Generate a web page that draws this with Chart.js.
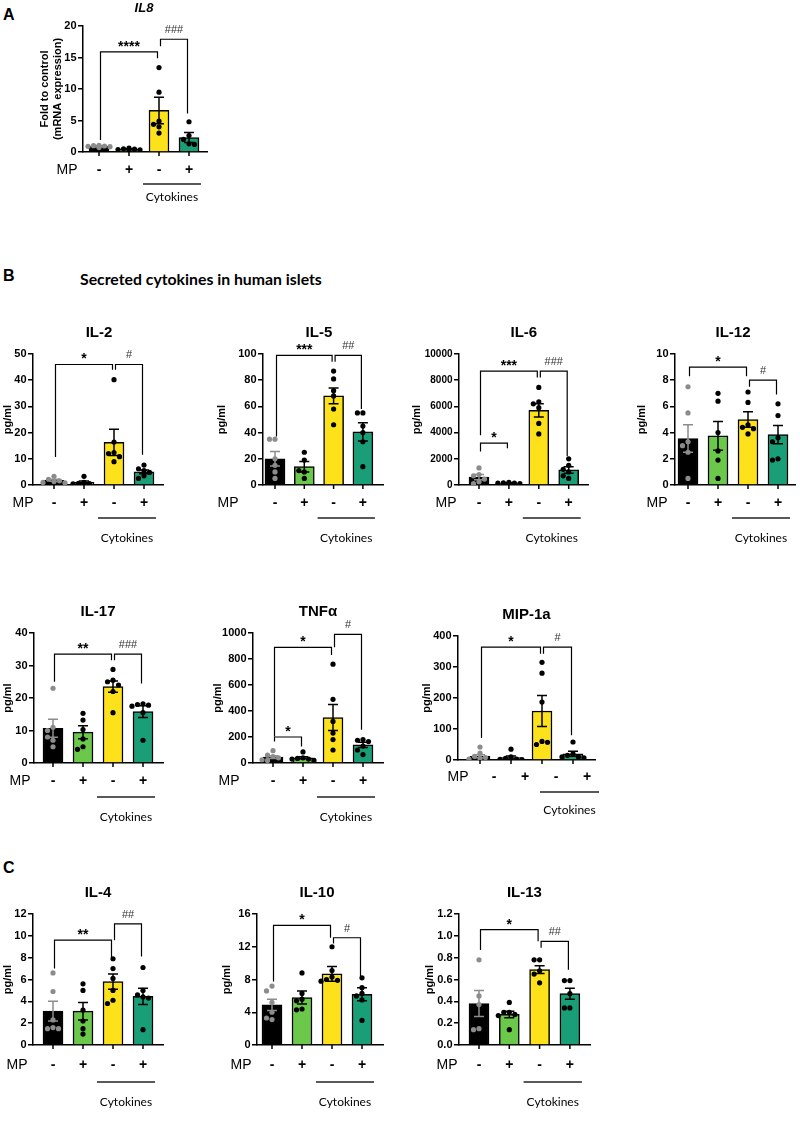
<!DOCTYPE html>
<html>
<head>
<meta charset="utf-8">
<script src="https://cdn.jsdelivr.net/npm/chart.js@4.4.1/dist/chart.umd.min.js"></script>
<style>
  body { margin: 0; background: #fff; }
  #fig { position: relative; width: 800px; height: 1126px; overflow: hidden; background: #fff; }
  #fig canvas { position: absolute; }
  .letter { position: absolute; font: bold 16px "Liberation Sans", Arial, sans-serif; line-height: 16px; }
  .head { position: absolute; font: bold 15.8px Lato, sans-serif; line-height: 16px; white-space: nowrap; }
</style>
</head>
<body>
<div id="fig">
  <div class="letter" style="left:3px;top:7px">A</div>
  <div class="letter" style="left:3px;top:268px">B</div>
  <div class="head" style="left:80px;top:271px">Secreted cytokines in human islets</div>
  <div class="letter" style="left:3px;top:860px">C</div>
</div>
<script>
// groups: control, MP, cytokines, cytokines + MP
var groups = ['Control', 'MP', 'Cytokines', 'Cytokines + MP'];
var mpSigns = ['-', '+', '-', '+'];

// A - IL8 mRNA, fold to control
var il8Mean = [0.9, 0.45, 6.6, 2.3];
var il8Sem = [0.08, 0.05, 2.1, 0.8];
var il8Pts = [[1.05, 1.0, 0.95, 0.9, 0.85, 0.7], [0.6, 0.5, 0.45, 0.4, 0.35, 0.3], [13.4, 9.5, 4.9, 4.4, 4.0, 3.0], [4.8, 2.6, 2.0, 1.3, 1.2]];
var il8Sig = [{a: 0, b: 2, y: 15.9, ya: 1.9, yb: 14.9, t: '****'}, {a: 2, b: 3, y: 17.9, ya: 16.8, yb: 6.1, t: '###'}];

// B - secreted cytokines (pg/ml)
var il2Mean = [1.8, 1.0, 16.3, 5.0];
var il2Sem = [0.4, 0.5, 5.0, 0.7];
var il2Pts = [[3.3, 2.2, 1.6, 1.3, 1.0, 0.8], [3.3, 1.0, 0.6, 0.5, 0.4], [40.2, 16.4, 12.4, 12.0, 10.8, 8.9], [7.6, 6.2, 5.5, 4.8, 3.5, 2.5]];
var il2Sig = [{a: 0, b: 2, y: 46, ya: 10.7, yb: 44, t: '*'}, {a: 2, b: 3, y: 46, ya: 44, yb: 11.5, t: '#'}];

var il5Mean = [20, 14, 68, 40.5];
var il5Sem = [5.5, 4, 6, 7];
var il5Pts = [[35, 35, 20, 15, 5, 10], [25, 19, 10, 5, 11], [87, 81, 72, 68, 58, 46], [55, 55, 45, 40, 33, 14]];
var il5Sig = [{a: 0, b: 2, y: 99, ya: 37, yb: 94, t: '***'}, {a: 2, b: 3, y: 99, ya: 94, yb: 58, t: '##'}];

var il6Mean = [600, 150, 5700, 1150];
var il6Sem = [200, 20, 500, 250];
var il6Pts = [[1300, 800, 700, 450, 250, 100], [200, 160, 150, 140, 110, 100], [7450, 6350, 6200, 5900, 4700, 3900], [2000, 1500, 1200, 1000, 700, 500]];
var il6Sig = [{a: 0, b: 2, y: 8700, ya: 3800, yb: 8200, t: '***'}, {a: 2, b: 3, y: 8700, ya: 8200, yb: 2200, t: '###'}, {a: 0, b: 1, y: 3200, ya: 2550, yb: 2800, t: '*'}];

var il12Mean = [3.55, 3.75, 5.0, 3.85];
var il12Sem = [1.05, 1.1, 0.6, 0.7];
var il12Pts = [[7.5, 5.5, 3.3, 3.0, 2.5, 0.5], [7.0, 6.4, 4.0, 2.6, 1.9, 0.5], [7.1, 6.3, 4.6, 4.4, 4.3, 3.9], [6.2, 5.3, 3.6, 3.3, 2.0, 1.9]];
var il12Sig = [{a: 0, b: 2, y: 9.0, ya: 8.3, yb: 8.3, t: '*'}, {a: 2, b: 3, y: 8.0, ya: 7.5, yb: 6.9, t: '#'}];

var il17Mean = [10.7, 9.5, 23.5, 15.8];
var il17Sem = [2.8, 2.0, 1.7, 1.8];
var il17Pts = [[23, 11, 10, 7, 5, 8], [15.3, 13.2, 10.3, 7.4, 5.0, 4.2], [28.8, 25.5, 25, 24, 22, 15.5], [18.2, 18, 17.8, 17.5, 15.5, 7]];
var il17Sig = [{a: 0, b: 2, y: 33.5, ya: 25, yb: 31.6, t: '**'}, {a: 2, b: 3, y: 33.5, ya: 31.6, yb: 24.5, t: '###'}];

var tnfMean = [45, 40, 350, 140];
var tnfSem = [10, 8, 100, 20];
var tnfPts = [[95, 60, 50, 40, 25, 20], [85, 40, 35, 30, 30, 20], [760, 490, 320, 230, 180, 100], [180, 175, 165, 130, 100, 65]];
var tnfSig = [{a: 0, b: 2, y: 890, ya: 204, yb: 830, t: '*'}, {a: 2, b: 3, y: 990, ya: 890, yb: 255, t: '#'}, {a: 0, b: 1, y: 200, ya: 165, yb: 127, t: '*'}];

var mipMean = [12, 8, 158, 20];
var mipSem = [5, 5, 50, 8];
var mipPts = [[42, 22, 12, 8, 5, 3], [35, 10, 5, 3, 2, 1], [315, 280, 187, 60, 50, 57], [58, 20, 15, 10, 10, 7]];
var mipSig = [{a: 0, b: 2, y: 364, ya: 71, yb: 343, t: '*'}, {a: 2, b: 3, y: 364, ya: 343, yb: 80, t: '#'}];

// C - anti-inflammatory cytokines (pg/ml)
var il4Mean = [3.1, 3.1, 5.8, 4.45];
var il4Sem = [0.9, 0.8, 0.7, 0.75];
var il4Pts = [[6.6, 4.9, 2.3, 1.6, 1.5, 1.5], [5.6, 5.0, 3.2, 2.2, 1.5, 1.0], [7.9, 7.0, 6.1, 5.0, 4.1, 3.8], [7.1, 5.0, 4.6, 4.4, 4.3, 1.4]];
var il4Sig = [{a: 0, b: 2, y: 9.6, ya: 7.0, yb: 8.0, t: '**'}, {a: 2, b: 3, y: 11.1, ya: 9.6, yb: 8.1, t: '##'}];

var il10Mean = [4.9, 5.8, 8.7, 6.2];
var il10Sem = [0.7, 0.8, 0.9, 0.8];
var il10Pts = [[7.2, 6.6, 5.2, 4.0, 3.1, 3.3], [8.8, 6.3, 5.6, 5.4, 4.4, 4.3], [12.0, 9.1, 8.3, 8.0, 7.9, 7.8], [8.2, 7.0, 6.3, 6.0, 5.5, 3.0]];
var il10Sig = [{a: 0, b: 2, y: 14.6, ya: 7.75, yb: 13.1, t: '*'}, {a: 2, b: 3, y: 13.1, ya: 12.4, yb: 8.4, t: '#'}];

var il13Mean = [0.38, 0.28, 0.69, 0.47];
var il13Sem = [0.12, 0.03, 0.035, 0.05];
var il13Pts = [[0.78, 0.45, 0.37, 0.15, 0.14], [0.39, 0.30, 0.30, 0.28, 0.27, 0.14], [0.78, 0.78, 0.68, 0.65, 0.57], [0.59, 0.59, 0.47, 0.34, 0.34]];
var il13Sig = [{a: 0, b: 2, y: 1.056, ya: 0.87, yb: 0.95, t: '*'}, {a: 2, b: 3, y: 0.95, ya: 0.89, yb: 0.69, t: '##'}];

var barColors = ['#000000', '#6cc84a', '#fde21b', '#1a9e77'];
var dotColors = ['#8c8c8c', '#000000', '#000000', '#000000'];
var FONT = '"Liberation Sans", Arial, sans-serif';

// layout of every small chart in page pixels (axis x, axis end, first bar centre, spacing, top, bottom)
var panels = [
  {title: 'IL8', italic: true, mean: il8Mean, sem: il8Sem, pts: il8Pts, sig: il8Sig, max: 20, step: 5,
   ax: 83, xr: 207, c0: 99, s: 30, top: 26, bot: 152, yTitle: ['Fold to control', '(mRNA expression)'], ytx: [45, 58],
   mpx: 67, mp: 18, line: 32, txt: 45, tdy: -18},
  {title: 'IL-2', mean: il2Mean, sem: il2Sem, pts: il2Pts, sig: il2Sig, max: 50, step: 10,
   ax: 33, xr: 163, c0: 54, s: 30, top: 354, bot: 485, ytx: [8], mpx: 23, mp: 18, line: 33, txt: 53},
  {title: 'IL-5', mean: il5Mean, sem: il5Sem, pts: il5Pts, sig: il5Sig, max: 100, step: 20,
   ax: 263, xr: 383, c0: 275, s: 29.3, top: 354, bot: 485, ytx: [222], mpx: 228, mp: 18, line: 33, txt: 53},
  {title: 'IL-6', mean: il6Mean, sem: il6Sem, pts: il6Pts, sig: il6Sig, max: 10000, step: 2000, tick: 10,
   ax: 459, xr: 588, c0: 479, s: 29.9, top: 354, bot: 485, ytx: [417], mpx: 446, mp: 18, line: 33, txt: 53},
  {title: 'IL-12', mean: il12Mean, sem: il12Sem, pts: il12Pts, sig: il12Sig, max: 10, step: 2,
   ax: 675, xr: 795, c0: 688, s: 30, top: 354, bot: 485, ytx: [642], mpx: 657, mp: 18, line: 33, txt: 53},
  {title: 'IL-17', mean: il17Mean, sem: il17Sem, pts: il17Pts, sig: il17Sig, max: 40, step: 10,
   ax: 34, xr: 163, c0: 53, s: 30, top: 633, bot: 763, ytx: [8], mpx: 20, mp: 18, line: 34, txt: 54},
  {title: 'TNFα', mean: tnfMean, sem: tnfSem, pts: tnfPts, sig: tnfSig, max: 1000, step: 200,
   ax: 253, xr: 383, c0: 273, s: 30, top: 633, bot: 763, ytx: [218], mpx: 229, mp: 18, line: 34, txt: 54},
  {title: 'MIP-1a', mean: mipMean, sem: mipSem, pts: mipPts, sig: mipSig, max: 400, step: 100,
   ax: 458, xr: 595, c0: 480, s: 31, top: 636, bot: 760, ytx: [427], mpx: 458, mp: 17, line: 32, txt: 50, shift: 14},
  {title: 'IL-4', mean: il4Mean, sem: il4Sem, pts: il4Pts, sig: il4Sig, max: 12, step: 2,
   ax: 33, xr: 163, c0: 53, s: 30, top: 914, bot: 1045, ytx: [8], mpx: 17, mp: 20, line: 37, txt: 57},
  {title: 'IL-10', mean: il10Mean, sem: il10Sem, pts: il10Pts, sig: il10Sig, max: 16, step: 4,
   ax: 257, xr: 383, c0: 272, s: 30, top: 914, bot: 1045, ytx: [227], mpx: 241, mp: 20, line: 37, txt: 57},
  {title: 'IL-13', mean: il13Mean, sem: il13Sem, pts: il13Pts, sig: il13Sig, max: 1.2, step: 0.2, dec: 1,
   ax: 459, xr: 590, c0: 479, s: 30.3, top: 914, bot: 1045, ytx: [430], mpx: 447, mp: 20, line: 37, txt: 57}
];

// spread overlapping dots sideways, like a prism scatter
function swarm(vals, ppu, s) {
  var placed = [];
  var tries = [0, -5.5, 5.5, -11, 11, -16, 16];
  return vals.map(function (v) {
    var py = v * ppu, off = 0;
    for (var k = 0; k < tries.length; k++) {
      var t = tries[k];
      var ok = placed.every(function (q) { return Math.hypot(q[0] - t, q[1] - py) >= 5.2; });
      if (ok) { off = t; break; }
    }
    placed.push([off, py]);
    return off / s;
  });
}

function figurePlugin(p) {
  return {
    id: 'fig',
    afterDatasetsDraw: function (chart) {
      var ctx = chart.ctx, xs = chart.scales.x, ys = chart.scales.y, area = chart.chartArea;
      var ox = p.ax - 60;
      var X = function (i) { return xs.getPixelForValue(i); };
      var Y = function (v) { return ys.getPixelForValue(v); };
      var sh = p.shift || 0;
      ctx.save();
      // y tick labels
      ctx.fillStyle = '#000';
      ctx.font = 'bold ' + (p.tick || 11) + 'px ' + FONT;
      ctx.textAlign = 'right';
      ctx.textBaseline = 'middle';
      ys.ticks.forEach(function (t) {
        var lab = p.dec ? t.value.toFixed(p.dec) : String(Math.round(t.value));
        ctx.fillText(lab, area.left - 6.5, Y(t.value));
      });
      ctx.textAlign = 'center';
      // error bars (mean +/- SEM)
      p.mean.forEach(function (m, i) {
        var cx = X(i), y1 = Y(m + p.sem[i]), y2 = Y(Math.max(0, m - p.sem[i]));
        ctx.strokeStyle = i === 0 ? '#8c8c8c' : '#000';
        ctx.lineWidth = 1.5;
        ctx.beginPath();
        ctx.moveTo(cx, y1); ctx.lineTo(cx, y2);
        ctx.moveTo(cx - 5, y1); ctx.lineTo(cx + 5, y1);
        ctx.moveTo(cx - 5, y2); ctx.lineTo(cx + 5, y2);
        ctx.stroke();
      });
      // significance brackets
      ctx.strokeStyle = '#000';
      ctx.lineWidth = 1.2;
      ctx.textBaseline = 'alphabetic';
      p.sig.forEach(function (b) {
        var xa = X(b.a) + 1.5, xb = X(b.b) - 1.5, y = Y(b.y);
        ctx.beginPath();
        ctx.moveTo(xa, Y(b.ya)); ctx.lineTo(xa, y); ctx.lineTo(xb, y); ctx.lineTo(xb, Y(b.yb));
        ctx.stroke();
        var star = b.t.charAt(0) === '*';
        ctx.font = star ? 'bold 14px ' + FONT : '11px ' + FONT;
        ctx.fillStyle = star ? '#000' : '#333';
        ctx.fillText(b.t, (xa + xb) / 2, y - (star ? 1 : 6));
      });
      // small x ticks under each bar
      ctx.lineWidth = 1.5;
      ctx.beginPath();
      for (var i = 0; i < 4; i++) { ctx.moveTo(X(i), area.bottom); ctx.lineTo(X(i), area.bottom + 4); }
      ctx.stroke();
      // title
      ctx.fillStyle = '#000';
      ctx.font = (p.italic ? 'italic bold 13px ' : 'bold 15px ') + FONT;
      ctx.textBaseline = 'middle';
      ctx.fillText(p.title, (X(0) + X(3)) / 2, area.top + (p.tdy || -21));
      // y axis title
      var titles = p.yTitle || ['pg/ml'];
      var ym = (area.top + area.bottom) / 2;
      titles.forEach(function (t, k) {
        ctx.save();
        ctx.translate(p.ytx[k] - ox, ym);
        ctx.rotate(-Math.PI / 2);
        ctx.font = 'bold 11px ' + FONT;
        ctx.fillText(t, 0, 0);
        ctx.restore();
      });
      // MP row, cytokines bar and label
      var base = area.bottom;
      ctx.font = '14px ' + FONT;
      ctx.fillText('MP', p.mpx - ox, base + p.mp);
      ctx.font = 'bold 14px ' + FONT;
      mpSigns.forEach(function (t, i) { ctx.fillText(t, X(i) + sh, base + p.mp); });
      var l1 = X(2) + sh - 16, l2 = X(3) + sh + 12;
      ctx.strokeStyle = '#222';
      ctx.lineWidth = 1.6;
      ctx.beginPath();
      ctx.moveTo(l1, base + p.line); ctx.lineTo(l2, base + p.line);
      ctx.stroke();
      ctx.font = '12px Lato, sans-serif';
      ctx.fillText('Cytokines', (l1 + l2) / 2, base + p.txt);
      ctx.restore();
    }
  };
}

var fig = document.getElementById('fig');
panels.forEach(function (p) {
  var cv = document.createElement('canvas');
  var W = p.xr - p.ax + 75, H = p.bot - p.top + 125;
  cv.width = W; cv.height = H;
  cv.style.left = (p.ax - 60) + 'px';
  cv.style.top = (p.top - 50) + 'px';
  cv.style.width = W + 'px'; cv.style.height = H + 'px';
  fig.appendChild(cv);

  var ppu = (p.bot - p.top) / p.max;
  var dots = [], dotCol = [];
  p.pts.forEach(function (vals, i) {
    var offs = swarm(vals, ppu, p.s);
    vals.forEach(function (v, k) {
      dots.push({x: i + offs[k], y: v});
      dotCol.push(dotColors[i]);
    });
  });

  new Chart(cv, {
    type: 'bar',
    data: {
      datasets: [
        {type: 'scatter', label: 'points', data: dots, pointRadius: 2.6, pointBackgroundColor: dotCol,
         pointBorderWidth: 0, order: 1},
        {type: 'bar', label: 'mean', data: p.mean.map(function (v, i) { return {x: i, y: v}; }),
         backgroundColor: barColors, borderColor: '#000', borderWidth: 1.5, barThickness: 20, order: 2}
      ]
    },
    options: {
      responsive: false,
      animation: false,
      devicePixelRatio: 1,
      layout: {padding: {left: 55, top: 50, right: 15, bottom: 75}},
      plugins: {legend: {display: false}, tooltip: {enabled: false}},
      scales: {
        x: {
          type: 'linear',
          offset: false,
          min: -(p.c0 - p.ax) / p.s,
          max: (p.xr - p.c0) / p.s,
          ticks: {display: false},
          grid: {display: false, drawTicks: false},
          border: {display: true, color: '#000', width: 1.5}
        },
        y: {
          min: 0,
          max: p.max,
          ticks: {display: false, stepSize: p.step},
          grid: {drawOnChartArea: false, color: '#000', lineWidth: 1.5, tickLength: 5},
          border: {display: true, color: '#000', width: 1.5}
        }
      }
    },
    plugins: [figurePlugin(p)]
  });
});
</script>
</body>
</html>
